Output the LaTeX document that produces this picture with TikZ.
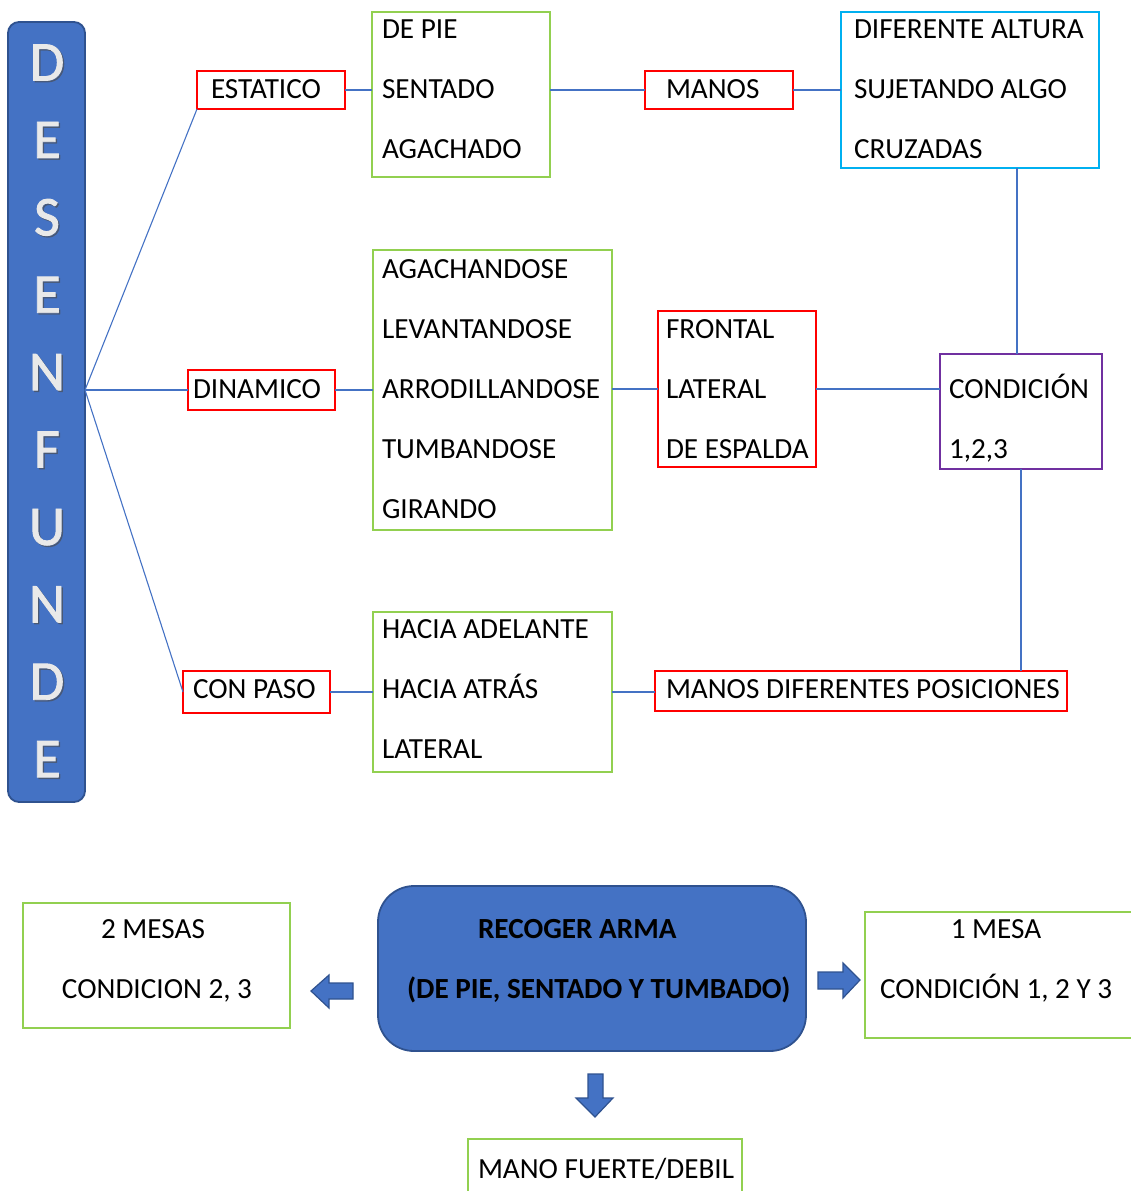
\documentclass[tikz,border=0pt]{standalone}
\usepackage{fontspec}
\setmainfont{Carlito}
\newfontfamily\letfont[FakeBold=1.6]{Carlito}
\definecolor{myred}{HTML}{FF0000}
\definecolor{mygreen}{HTML}{92D050}
\definecolor{mycyan}{HTML}{00B0F0}
\definecolor{mypurple}{HTML}{7030A0}
\definecolor{fillblue}{HTML}{4472C4}
\definecolor{edgeblue}{HTML}{2F528F}
\definecolor{linkblue}{HTML}{4472C4}
\definecolor{letgray}{HTML}{E9E9E9}
\tikzset{
  bx/.style={draw, line width=2.6pt, inner sep=0pt, outer sep=0pt, anchor=north west},
  rbox/.style={bx, draw=myred},
  gbox/.style={bx, draw=mygreen},
  cbox/.style={bx, draw=mycyan},
  pbox/.style={bx, draw=mypurple},
  bluebox/.style={bx, draw=edgeblue, fill=fillblue, line width=1.8pt},
  txt/.style={anchor=base west, inner sep=0pt, outer sep=0pt, font=\fontsize{29.2}{34}\selectfont},
  ctxt/.style={txt, anchor=base},
  btxt/.style={txt, font=\fontsize{29.2}{34}\selectfont\bfseries},
  letter/.style={anchor=base, inner sep=0pt, text=letgray, font=\fontsize{56}{60}\letfont},
  lshadow/.style={anchor=base, inner sep=0pt, text=black!70, opacity=0.5, font=\fontsize{56}{60}\letfont},
  link/.style={draw=linkblue, line width=1.1pt},
  blockarrow/.style={fill=fillblue, draw=edgeblue, line width=1.2pt, line join=miter}
}
\newcommand\mkbox[6]{\node[#1, minimum width={#4-#2}, minimum height={#5-#3}] (#6) at (#2,#3) {};}
\begin{document}
\begin{tikzpicture}[x=1pt,y=-1pt]
\useasboundingbox (0,0) rectangle (1130,1191);
% vertical title box
\mkbox{bluebox, rounded corners=11pt}{8}{22}{85}{802}{desen}
\foreach \L [count=\i from 0] in {D,E,S,E,N,F,U,N,D,E} {
  \node[lshadow] (sh\i) at (48.5, 80.5+77.4*\i+1.5) {\L};
  \node[letter] (let\i) at (47, 80.5+77.4*\i) {\L};
}
% boxes
\mkbox{rbox}{197}{71}{345}{109}{est}
\mkbox{gbox}{372}{12}{550}{177}{gone}
\mkbox{rbox}{645}{71}{793}{109}{manos}
\mkbox{cbox}{841}{12}{1099}{168}{cyan}
\mkbox{rbox}{188}{370}{335}{410}{din}
\mkbox{gbox}{373}{250}{612}{530}{gtwo}
\mkbox{rbox}{658}{311}{816}{467}{front}
\mkbox{pbox}{940}{354}{1102}{469}{purp}
\mkbox{rbox}{183}{671}{330}{713}{paso}
\mkbox{gbox}{373}{612}{612}{772}{gthree}
\mkbox{rbox}{655}{671}{1067}{711}{mdp}
\mkbox{gbox}{23}{903}{290}{1028}{mesas}
\mkbox{bluebox, rounded corners=36pt}{378}{886}{806}{1051}{recoger}
\mkbox{gbox}{865}{912}{1140}{1038}{mesa}
\mkbox{gbox}{468}{1139}{742}{1205}{mano}
% texts
\node[txt] (tEst) at (211,98.5) {ESTATICO};
\node[txt] (tG1a) at (382,38.5) {DE PIE};
\node[txt] (tG1b) at (382,98.5) {SENTADO};
\node[txt] (tG1c) at (382,158.5) {AGACHADO};
\node[txt] (tMan) at (666,98.5) {MANOS};
\node[txt] (tCa) at (854,38.5) {DIFERENTE ALTURA};
\node[txt] (tCb) at (854,98.5) {SUJETANDO ALGO};
\node[txt] (tCc) at (854,158.5) {CRUZADAS};
\node[txt] (tDin) at (193,398.5) {DINAMICO};
\node[txt] (tG2a) at (382,278.5) {AGACHANDOSE};
\node[txt] (tG2b) at (382,338.5) {LEVANTANDOSE};
\node[txt] (tG2c) at (382,398.5) {ARRODILLANDOSE};
\node[txt] (tG2d) at (382,458.5) {TUMBANDOSE};
\node[txt] (tG2e) at (382,518.5) {GIRANDO};
\node[txt] (tFa) at (666,338.5) {FRONTAL};
\node[txt] (tFb) at (666,398.5) {LATERAL};
\node[txt] (tFc) at (666,458.5) {DE ESPALDA};
\node[txt] (tPa) at (949,398.5) {CONDICIÓN};
\node[txt] (tPb) at (949,458.5) {1,2,3};
\node[txt] (tPaso) at (193,698.5) {CON PASO};
\node[txt] (tG3a) at (382,638.5) {HACIA ADELANTE};
\node[txt] (tG3b) at (382,698.5) {HACIA ATRÁS};
\node[txt] (tG3c) at (382,758.5) {LATERAL};
\node[txt] (tMdp) at (666,698.5) {MANOS DIFERENTES POSICIONES};
\node[ctxt] (tMsa) at (153,938.5) {2 MESAS};
\node[ctxt] (tMsb) at (157,998.5) {CONDICION 2, 3};
\node[btxt] (tRa) at (478,938.5) {RECOGER ARMA};
\node[btxt] (tRb) at (407,998.5) {(DE PIE, SENTADO Y TUMBADO)};
\node[ctxt] (tMa) at (996,938.5) {1 MESA};
\node[txt] (tMb) at (880,998.5) {CONDICIÓN 1, 2 Y 3};
\node[txt] (tMano) at (478,1178.5) {MANO FUERTE/DEBIL};
% connectors
\coordinate (hub) at (desen.east |- din.west);
\draw[link] (hub) -- (est.south west);
\draw[link] (hub) -- (din.west);
\draw[link] (hub) -- (paso.west);
\draw[link] (est.east) -- (est.east -| gone.west);
\draw[link] (gone.east |- manos.west) -- (manos.west);
\draw[link] (manos.east) -- (manos.east -| cyan.west);
\draw[link] ([xshift=-4pt]purp.north |- cyan.south) -- ([xshift=-4pt]purp.north);
\draw[link] (purp.south) -- (purp.south |- mdp.north);
\draw[link] (din.east) -- (din.east -| gtwo.west);
\draw[link] (gtwo.east |- front.west) -- (front.west);
\draw[link] (front.east) -- (front.east -| purp.west);
\draw[link] (paso.east) -- (paso.east -| gthree.west);
\draw[link] (gthree.east) -- (gthree.east -| mdp.west);
% block arrows
\draw[blockarrow] (311,991) -- (329,975) -- (329,983) -- (353,983) -- (353,999) -- (329,999) -- (329,1008) -- cycle;
\draw[blockarrow] (860,980) -- (843,963) -- (843,972) -- (818,972) -- (818,989) -- (843,989) -- (843,998) -- cycle;
\draw[blockarrow] (595,1117) -- (576,1098) -- (588,1098) -- (588,1074) -- (603,1074) -- (603,1098) -- (613,1098) -- cycle;
\end{tikzpicture}
\end{document}
